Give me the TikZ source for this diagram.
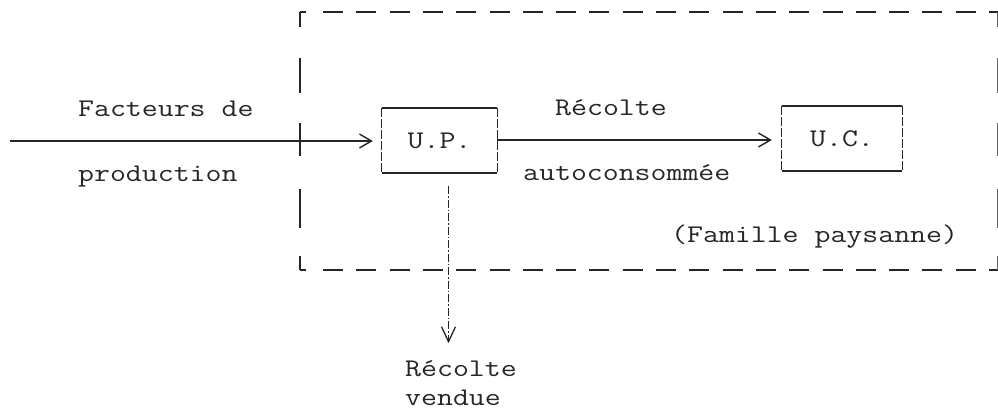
\documentclass[tikz,border=0pt]{standalone}
\usepackage{fontspec}
\usepackage{graphicx}
\usetikzlibrary{arrows.meta,calc}

% typewriter face, widened to a 16.2pt pitch
\newcommand\twfont{\ttfamily\fontsize{25.4}{30}\selectfont}
\newcommand\tw[1]{\scalebox{1.218}[1]{#1}}

\begin{document}
\begin{tikzpicture}[x=1pt,y=-1pt,
  ink/.style={draw=black!85},
  lbl/.style={font=\twfont, text=black!85, inner sep=0pt, anchor=base west},
  unit/.style={font=\twfont, text=black!85,
               inner sep=0pt, minimum width=#1, minimum height=65pt},
  boxedge/.style={ink, line width=1.5pt},
  boxside/.style={ink, line width=0.9pt, dash pattern=on 9pt off 2pt},
  frame/.style={ink, line width=1.8pt},
  flow/.style={ink, line width=1.4pt,
               -{Straight Barb[length=12pt,width=14pt,line width=1.4pt]}},
  sale/.style={ink, line width=0.8pt,
               dash pattern=on 8pt off 2pt on 1.5pt off 2pt,
               -{Straight Barb[length=15pt,width=14pt,line width=1.3pt]}}
]
\fill[white] (0,0) rectangle (998,411);
\useasboundingbox (0,0) rectangle (998,411);

% household frame (dashed)
\draw[frame] (300,12) -- (306,12);
\draw[frame, dash pattern=on 20pt off 13.3pt] (323,12) -- (998,12);
\draw[frame] (300,270) -- (306,270);
\draw[frame, dash pattern=on 20pt off 13.3pt] (323,270) -- (998,270);
\draw[frame, line width=1.4pt,
      dash pattern=on 15pt off 31pt on 35pt off 30pt on 33pt off 33pt on 39pt off 28pt on 15pt]
      (300,12) -- (300,270);
\draw[frame, line width=0.9pt, draw=black!60,
      dash pattern=on 15pt off 31pt on 35pt off 30pt on 33pt off 33pt on 39pt off 28pt on 15pt]
      (997.6,12) -- (997.6,270);

% units
\node[unit=115pt] (up) at (439.5,140.5) {\tw{U.P.}};
\node[unit=120pt] (uc) at (842,138.5) {\tw{U.C.}};
\foreach \b in {up,uc}{
  \draw[boxedge] (\b.north west) -- (\b.north east);
  \draw[boxedge] (\b.south west) -- (\b.south east);
  \draw[boxside] (\b.north west) -- (\b.south west);
  \draw[boxside] (\b.north east) -- (\b.south east);
}

% flows
\coordinate (in) at (10,141);
\coordinate (vend) at ($(up.south)+(9,170)$);
\draw[flow, shorten >=9pt] (in) -- (in -| up.west);
\draw[flow, shorten >=10pt] (up.east |- 0,140) -- (uc.west |- 0,140);
\draw[sale] ([xshift=9pt,yshift=-13pt]up.south) -- (vend);

% labels
\node[lbl] (l1) at (78,117) {\tw{Facteurs de}};
\node[lbl] (l2) at (78,182) {\tw{production}};
\node[lbl] (l3) at (555,116) {\tw{Récolte}};
\node[lbl] (l4) at (523,181) {\tw{autoconsommée}};
\node[lbl] (l5) at (671,243) {\tw{(Famille paysanne)}};
\node[lbl] (l6) at (405,376) {\tw{Récolte}};
\node[lbl] (l7) at (405,405) {\tw{vendue}};
\end{tikzpicture}
\end{document}
